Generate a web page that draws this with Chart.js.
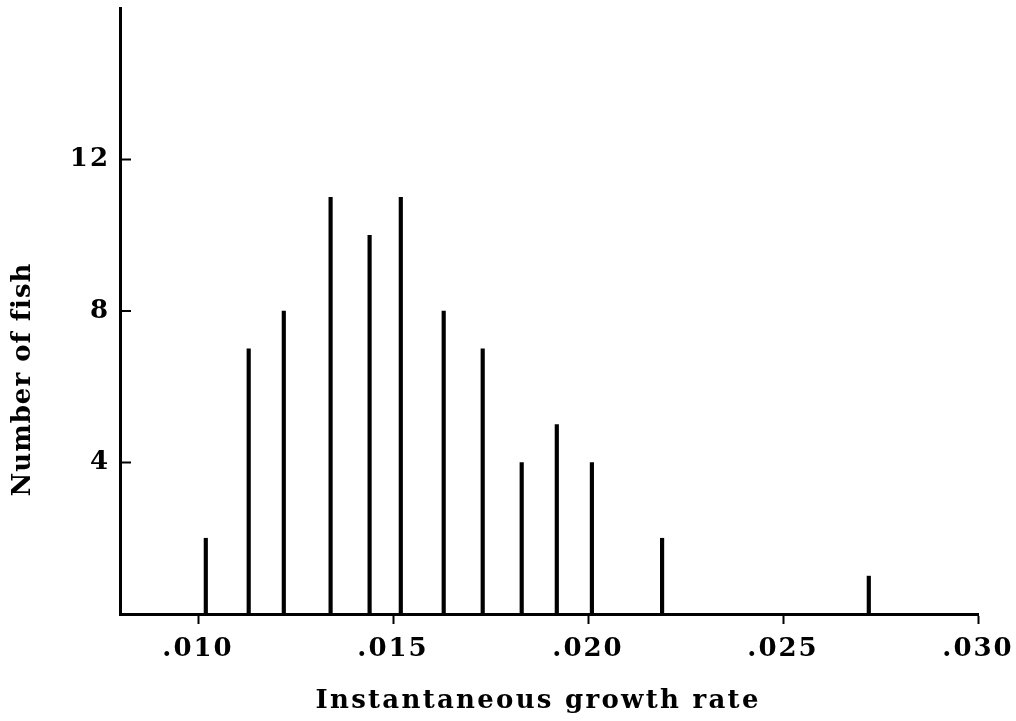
<!DOCTYPE html>
<html><head><meta charset="utf-8">
<script src="https://cdn.jsdelivr.net/npm/chart.js@4.4.1/dist/chart.umd.min.js"></script>
<style>html,body{margin:0;padding:0;background:#fff;overflow:hidden;}</style>
</head><body>
<canvas id="c" width="1016" height="721" style="display:block;width:1016px;height:721px"></canvas>
<script>
const growthRates = [0.0102, 0.0113, 0.0122, 0.0134, 0.0144, 0.0152, 0.0163, 0.0173, 0.0183, 0.0192, 0.0201, 0.0219, 0.0272];
const fishCounts  = [2, 7, 8, 11, 10, 11, 8, 7, 4, 5, 4, 2, 1];
const xTickValues = [0.010, 0.015, 0.020, 0.025, 0.030];
const yTickValues = [4, 8, 12];
const xTitle = 'Instantaneous growth rate';
const yTitle = 'Number of fish';

const FONT = '"DejaVu Serif", "Liberation Serif", serif';
const TEXT_SIZE = 26;
const TICK_SPACING = '2px';

function drawSpacedText(ctx, text, x, y, targetWidth, rotate) {
  ctx.save();
  ctx.font = 'bold ' + TEXT_SIZE + 'px ' + FONT;
  ctx.letterSpacing = '0px';
  const w0 = ctx.measureText(text).width;
  const sp = Math.max(0, (targetWidth - w0) / text.length);
  ctx.letterSpacing = sp.toFixed(2) + 'px';
  ctx.fillStyle = '#000';
  ctx.textAlign = 'center';
  ctx.textBaseline = 'middle';
  ctx.translate(x + (rotate ? 0 : sp / 2), y + (rotate ? sp / 2 : 0));
  if (rotate) ctx.rotate(-Math.PI / 2);
  ctx.fillText(text, 0, 0);
  ctx.restore();
}

const extras = {
  id: 'extras',
  beforeDraw(chart) {
    chart.ctx.letterSpacing = TICK_SPACING;
  },
  afterDraw(chart) {
    const ctx = chart.ctx;
    const y = chart.scales.y;
    const area = chart.chartArea;
    ctx.save();
    ctx.strokeStyle = '#000';
    ctx.lineWidth = 2;
    yTickValues.forEach(v => {
      const py = y.getPixelForValue(v);
      ctx.beginPath();
      ctx.moveTo(area.left, py);
      ctx.lineTo(area.left + 11, py);
      ctx.stroke();
    });
    ctx.restore();
    drawSpacedText(ctx, xTitle, 537, 701, 445, false);
    drawSpacedText(ctx, yTitle, 23, 379, 232, true);
  }
};

new Chart(document.getElementById('c'), {
  type: 'bar',
  data: {
    datasets: [{
      data: growthRates.map((x, i) => ({ x: x, y: fishCounts[i] })),
      backgroundColor: '#000',
      borderWidth: 0,
      barThickness: 3.5
    }]
  },
  options: {
    responsive: false,
    animation: false,
    events: [],
    layout: { padding: { left: 0, right: 38, top: 8, bottom: 0 } },
    plugins: { legend: { display: false }, tooltip: { enabled: false } },
    scales: {
      x: {
        type: 'linear',
        min: 0.008,
        max: 0.030,
        offset: false,
        afterBuildTicks: s => { s.ticks = xTickValues.map(v => ({ value: v })); },
        afterFit: s => { s.height = 107; s.paddingLeft = 0; s.paddingRight = 0; s.paddingTop = 0; s.paddingBottom = 0; },
        grid: { display: true, offset: false, drawOnChartArea: false, drawTicks: true, tickLength: 10, tickWidth: 2, color: '#000' },
        border: { display: true, width: 3, color: '#000' },
        ticks: {
          color: '#000',
          padding: 10,
          maxRotation: 0,
          autoSkip: false,
          font: { family: FONT, size: TEXT_SIZE, weight: 'bold' },
          callback: v => '.' + v.toFixed(3).slice(2)
        }
      },
      y: {
        type: 'linear',
        min: 0,
        max: 16,
        afterBuildTicks: s => { s.ticks = yTickValues.map(v => ({ value: v })); },
        afterFit: s => { s.width = 120; s.paddingLeft = 0; s.paddingRight = 0; s.paddingTop = 0; s.paddingBottom = 0; },
        grid: { display: true, offset: false, drawOnChartArea: false, drawTicks: false },
        border: { display: true, width: 3, color: '#000' },
        ticks: {
          color: '#000',
          padding: 10,
          autoSkip: false,
          font: { family: FONT, size: TEXT_SIZE, weight: 'bold' }
        }
      }
    }
  },
  plugins: [extras]
});
</script>
</body></html>
